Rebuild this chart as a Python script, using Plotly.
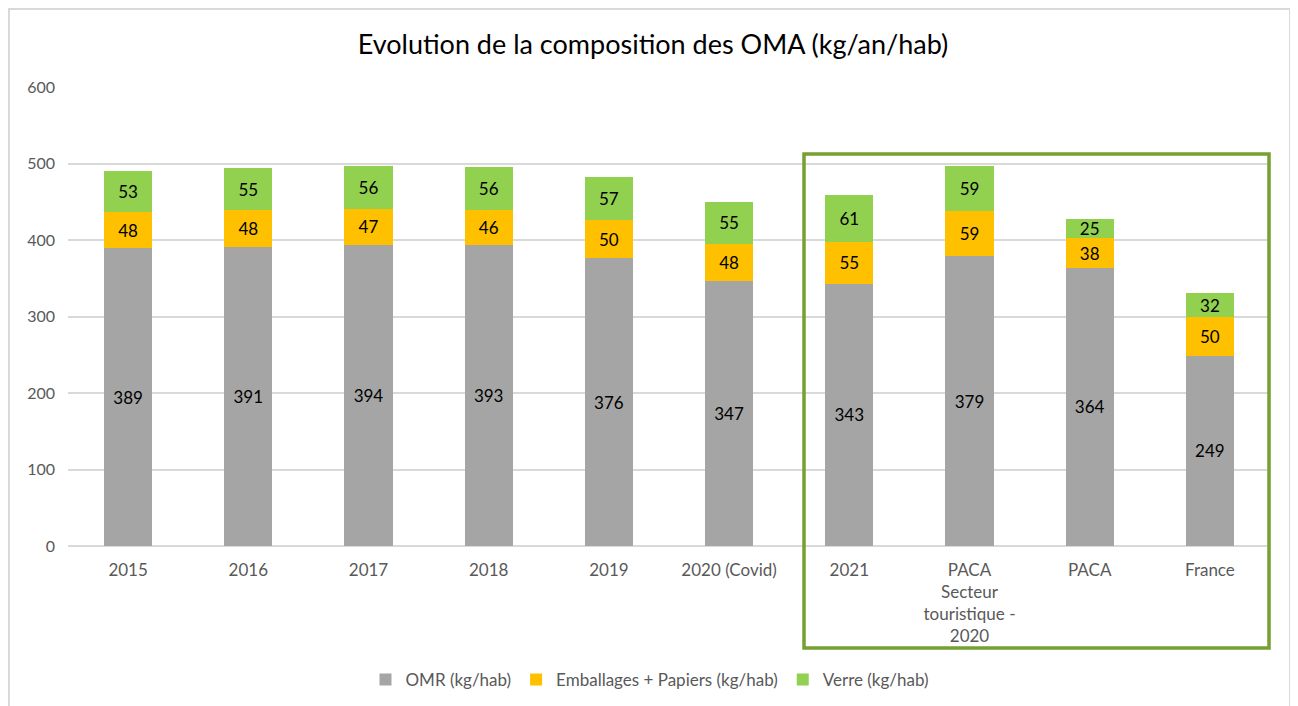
import plotly.graph_objects as go

categories = ["2015", "2016", "2017", "2018", "2019", "2020 (Covid)", "2021",
              "PACA<br>Secteur<br>touristique -<br>2020", "PACA", "France"]
omr = [389, 391, 394, 393, 376, 347, 343, 379, 364, 249]
emballages = [48, 48, 47, 46, 50, 48, 55, 59, 38, 50]
verre = [53, 55, 56, 56, 57, 55, 61, 59, 25, 32]
y_ticks = [0, 100, 200, 300, 400, 500, 600]

OFF = 8  # page body margin
PAGE_W, PAGE_H = 1298, 706
W, H = PAGE_W - OFF, PAGE_H - OFF
# plot area in page pixels: x 68..1270, y 87..546
L = 68 - OFF
T = 87 - OFF
R = W - (1270 - OFF)
B = H - (546 - OFF)
pw, ph = W - L - R, H - T - B

def px_x(p):
    return (p - OFF - L) / pw

def px_y(p):
    return (H - B - (p - OFF)) / ph

fig = go.Figure()
series = [("OMR (kg/hab)", omr, "#A5A5A5"),
          ("Emballages + Papiers (kg/hab)", emballages, "#FFC000"),
          ("Verre (kg/hab)", verre, "#92D050")]
for name, vals, col in series:
    fig.add_trace(go.Bar(
        x=categories, y=vals, name=name, marker=dict(color=col, line=dict(width=0)),
        text=[str(v) for v in vals], textposition="inside", insidetextanchor="middle",
        textangle=0,
        textfont=dict(color="#000000", size=17, family="Lato"),
        constraintext="none", width=0.4,
    ))

fig.update_layout(
    barmode="stack",
    width=W, height=H,
    margin=dict(l=L, r=R, t=T, b=B, autoexpand=False),
    plot_bgcolor="white", paper_bgcolor="white",
    font=dict(family="Lato", color="#595959", size=16),
    title=dict(text="Evolution de la composition des OMA (kg/an/hab)",
               x=0.5, xanchor="center", y=1 - (45 - OFF) / H, yanchor="middle",
               font=dict(size=27, color="#000000", family="Lato")),
    xaxis=dict(tickfont=dict(size=17, color="#595959"), showgrid=False,
               showline=False, ticks="", tickangle=0, range=[-0.5, 9.5],
               ticklabelstandoff=12),
    yaxis=dict(range=[0, 600], tickvals=y_ticks, showgrid=True, gridcolor="#D9D9D9",
               gridwidth=1.5, zeroline=True, zerolinecolor="#D9D9D9", zerolinewidth=1.5,
               tickfont=dict(size=16, color="#595959"), ticks="", ticklabelstandoff=12),
    legend=dict(orientation="h", x=px_x(650), xanchor="center", y=px_y(680), yanchor="middle",
                font=dict(size=17, color="#595959"), traceorder="normal",
                itemwidth=30),
    uniformtext=dict(minsize=8, mode="show"),
)

# outer chart border (bottom edge off-page)
fig.add_shape(type="rect", xref="paper", yref="paper",
              x0=px_x(9), x1=px_x(1290), y0=px_y(720), y1=px_y(9),
              line=dict(color="#D9D9D9", width=2), fillcolor="rgba(0,0,0,0)", layer="below")
# green highlight box
fig.add_shape(type="rect", xref="paper", yref="paper",
              x0=px_x(804), x1=px_x(1269), y0=px_y(648), y1=px_y(154),
              line=dict(color="#77A033", width=3.5), fillcolor="rgba(0,0,0,0)", layer="above")

fig.write_html("out.html")
